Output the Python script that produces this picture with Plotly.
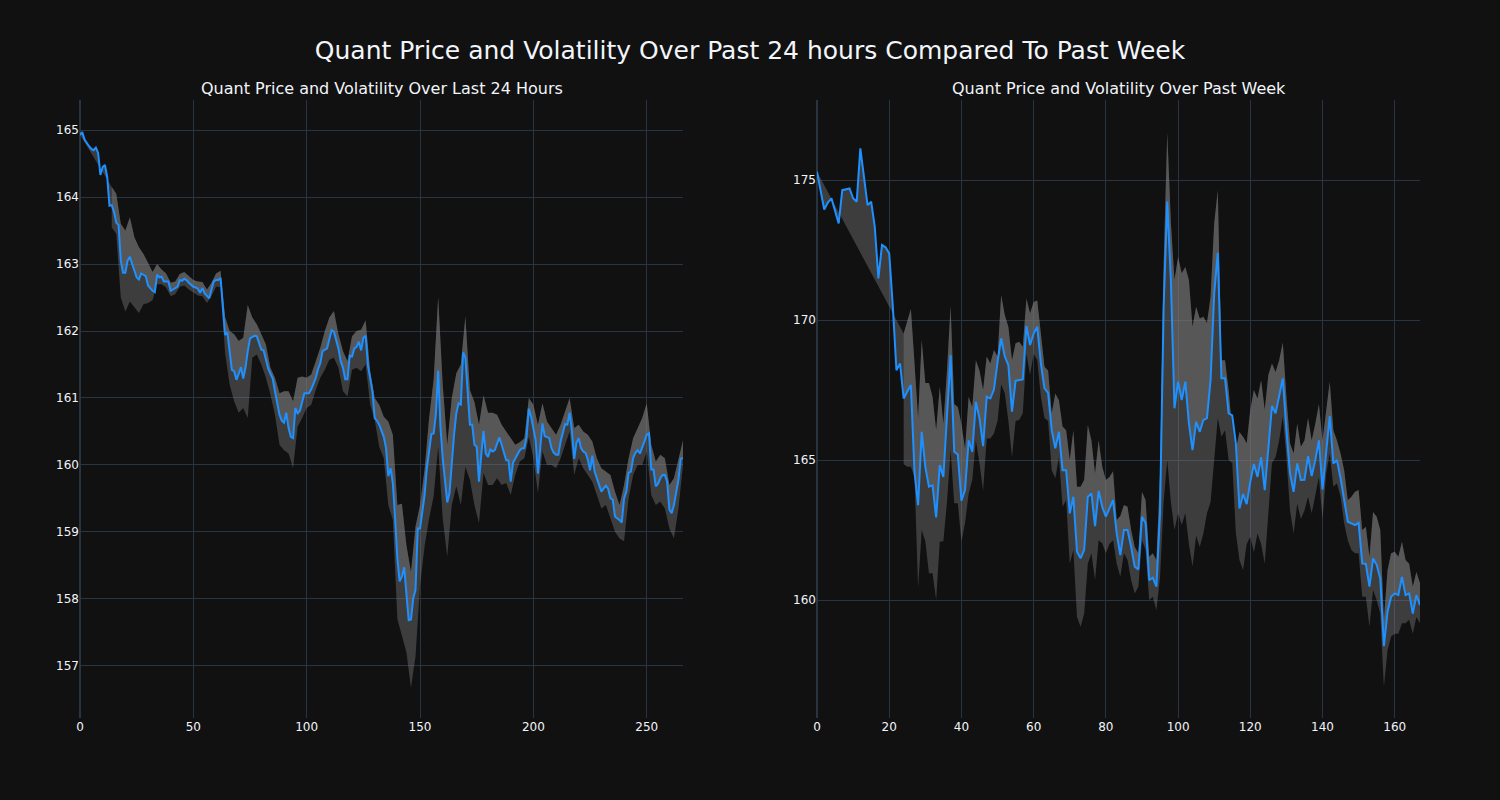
import plotly.graph_objects as go
from plotly.subplots import make_subplots

# ---------------- Last 24 hours ----------------
day_price = [
    164.93, 164.97, 164.86, 164.80, 164.76, 164.72, 164.70, 164.74, 164.66, 164.33,
    164.45, 164.48, 164.30, 163.87, 163.88, 163.78, 163.62, 163.58, 163.05, 162.87,
    162.87, 163.05, 163.11, 163.00, 162.90, 162.80, 162.77, 162.86, 162.84, 162.82,
    162.68, 162.64, 162.60, 162.58, 162.84, 162.80, 162.81, 162.74, 162.74, 162.74,
    162.60, 162.62, 162.64, 162.66, 162.76, 162.75, 162.78, 162.76, 162.72, 162.69,
    162.66, 162.65, 162.63, 162.57, 162.64, 162.56, 162.52, 162.49, 162.62, 162.74,
    162.76, 162.76, 162.79, 162.30, 161.94, 161.98, 161.70, 161.42, 161.40, 161.27,
    161.36, 161.46, 161.29, 161.45, 161.70, 161.89, 161.91, 161.93, 161.92, 161.80,
    161.72, 161.71, 161.58, 161.44, 161.36, 161.29, 161.10, 160.90, 160.75, 160.66,
    160.63, 160.78, 160.55, 160.42, 160.40, 160.85, 160.77, 160.81, 160.95, 161.07,
    161.07, 161.07, 161.13, 161.22, 161.30, 161.43, 161.52, 161.70, 161.72, 161.74,
    161.88, 162.01, 161.99, 161.88, 161.74, 161.55, 161.45, 161.28, 161.28, 161.63,
    161.62, 161.74, 161.76, 161.84, 161.71, 161.90, 161.93, 161.49, 161.30, 161.10,
    160.70, 160.66, 160.60, 160.50, 160.42, 160.25, 159.83, 159.95, 159.73, 159.20,
    158.60, 158.26, 158.33, 158.47, 158.08, 157.68, 157.69, 158.01, 158.13, 159.05,
    159.05, 159.30, 159.55, 159.95, 160.20, 160.46, 160.47, 160.76, 161.41, 160.57,
    160.10, 159.80, 159.44, 159.58, 160.05, 160.45, 160.77, 160.92, 160.90, 161.68,
    161.60, 161.10, 160.60, 160.60, 160.30, 160.27, 159.75, 160.15, 160.51, 160.17,
    160.12, 160.23, 160.20, 160.22, 160.32, 160.41, 160.30, 160.20, 160.07, 160.07,
    159.75, 160.03, 160.10, 160.16, 160.22, 160.25, 160.25, 160.42, 160.84, 160.72,
    160.55, 160.37, 159.87, 160.30, 160.62, 160.43, 160.42, 160.40, 160.25, 160.18,
    160.15, 160.15, 160.35, 160.50, 160.61, 160.60, 160.78, 160.50, 160.09, 160.33,
    160.40, 160.25, 160.20, 160.18, 160.08, 159.92, 160.14, 159.90, 159.80, 159.70,
    159.60, 159.65, 159.69, 159.64, 159.50, 159.48, 159.23, 159.20, 159.18, 159.14,
    159.50, 159.60, 159.88, 159.90, 160.10, 160.18, 160.22, 160.17, 160.25, 160.35,
    160.45, 160.47, 159.93, 159.93, 159.68, 159.72, 159.80, 159.85, 159.85, 159.75,
    159.33, 159.28, 159.40, 159.60, 159.78, 160.09, 160.10,
]

# volatility band, sampled every 2nd step starting at step 14
day_band_start = 14
day_band_step = 2
day_upper = [
    164.15, 164.05, 163.60, 163.50, 163.70, 163.40, 163.25, 163.15, 163.02, 162.88,
    163.00, 162.92, 162.86, 162.72, 162.74, 162.85, 162.88, 162.82, 162.76, 162.74,
    162.73, 162.62, 162.72, 162.86, 162.90, 162.21, 162.00, 161.95, 161.85, 161.90,
    162.39, 162.20, 162.10, 161.95, 161.80, 161.45, 161.30, 161.07, 161.10, 161.10,
    160.95, 161.30, 161.32, 161.30, 161.35, 161.55, 161.75, 162.00, 162.20, 162.30,
    161.95, 161.70, 161.55, 161.92, 162.00, 162.02, 162.16, 161.40, 161.00, 160.90,
    160.72, 160.65, 160.45, 159.40, 159.42, 158.80, 158.40, 159.08, 159.40, 159.93,
    160.70, 161.27, 162.51, 161.20, 160.30, 161.00, 161.37, 161.50, 162.22, 161.12,
    160.94, 160.60, 161.04, 160.78, 160.78, 160.75, 160.60, 160.50, 160.40, 160.30,
    160.34, 160.40, 161.00, 160.90, 160.60, 160.92, 160.65, 160.55, 160.45, 160.60,
    160.80, 161.00, 160.55, 160.60, 160.50, 160.45, 160.35, 160.10, 159.95, 159.90,
    159.85, 159.60, 159.40, 159.70, 160.10, 160.40, 160.55, 160.70, 160.92, 160.30,
    160.05, 160.15, 160.10, 159.70, 159.80, 160.10, 160.37,
]
day_lower = [
    163.55, 163.45, 162.50, 162.29, 162.44, 162.35, 162.27, 162.40, 162.42, 162.46,
    162.70, 162.70, 162.65, 162.52, 162.55, 162.66, 162.68, 162.62, 162.57, 162.53,
    162.52, 162.42, 162.52, 162.66, 162.66, 161.67, 161.20, 160.95, 160.78, 160.85,
    160.70, 161.60, 161.65, 161.50, 161.30, 161.05, 160.75, 160.30, 160.22, 160.17,
    159.95, 160.57, 160.70, 160.85, 160.90, 161.12, 161.30, 161.42, 161.57, 161.60,
    161.45, 161.10, 161.02, 161.42, 161.45, 161.40, 161.50, 160.90, 160.67, 160.27,
    160.10, 159.40, 159.18, 157.70, 157.45, 157.20, 156.67, 157.14, 158.20, 158.78,
    159.20, 159.53, 160.27, 159.20, 158.63, 159.40, 159.68, 159.40, 159.97, 159.78,
    159.40, 159.13, 159.88, 159.70, 159.70, 159.80, 159.70, 159.73, 159.55, 159.85,
    160.05, 160.10, 160.42, 160.10, 159.58, 160.20, 160.00, 160.00, 159.95, 160.10,
    160.30, 160.50, 159.85, 160.10, 159.95, 159.85, 159.75, 159.55, 159.35, 159.40,
    159.20, 159.00, 158.90, 158.86, 159.50, 159.85, 160.00, 160.00, 160.20, 159.55,
    159.40, 159.45, 159.35, 159.05, 158.90, 159.35, 160.00,
]

# ---------------- Past week ----------------
week_price = [
    175.30, 174.60, 173.95, 174.20, 174.35, 173.90, 173.45, 174.64, 174.67, 174.70,
    174.35, 174.23, 176.13, 175.10, 174.11, 174.23, 173.33, 171.49, 172.68, 172.60,
    172.38, 170.48, 168.21, 168.45, 167.20, 167.45, 167.68, 164.58, 163.39, 166.01,
    164.76, 164.05, 164.10, 162.95, 164.82, 164.40, 166.55, 168.75, 165.30, 165.20,
    163.55, 163.93, 165.71, 165.30, 167.08, 166.50, 165.50, 167.26, 167.20, 167.52,
    168.50, 169.35, 168.70, 168.39, 166.73, 167.83, 167.86, 167.88, 169.79, 169.11,
    169.52, 169.76, 168.45, 167.56, 167.40, 166.07, 165.42, 166.01, 164.64, 164.64,
    163.10, 163.69, 161.73, 161.49, 161.80, 163.69, 163.81, 162.64, 163.90, 163.33,
    162.98, 163.25, 163.57, 162.38, 161.61, 162.50, 162.50, 161.90, 161.19, 161.10,
    162.98, 162.75, 160.71, 160.80, 160.48, 163.10, 170.48, 174.23, 171.43, 166.85,
    167.80, 167.14, 167.80, 166.31, 165.36, 166.37, 166.01, 166.43, 166.50, 167.86,
    170.95, 172.40, 167.92, 167.92, 166.67, 166.60, 165.60, 163.27, 163.79, 163.43,
    164.23, 164.86, 164.40, 165.10, 163.93, 165.42, 166.93, 166.67, 167.32, 167.92,
    166.07, 164.52, 163.87, 164.88, 164.29, 164.30, 165.14, 164.43, 165.00, 165.71,
    163.95, 165.35, 166.57, 164.88, 165.00, 164.35, 163.63, 162.80, 162.74, 162.68,
    162.76, 161.31, 161.29, 160.48, 161.49, 161.26, 160.77, 158.36, 159.58, 160.12,
    160.24, 160.18, 160.83, 160.18, 160.24, 159.52, 160.18, 159.82,
]

week_band_start = 24
week_upper = [
    169.52, 170.00, 170.40, 168.46, 166.50, 169.30, 167.75, 167.75, 167.26, 166.07,
    167.62, 166.30, 168.20, 170.50, 167.00, 166.90, 166.30, 165.40, 167.26, 166.90,
    168.57, 168.20, 167.50, 168.70, 168.45, 168.93, 168.70, 170.90, 170.18, 169.76,
    168.57, 169.17, 169.23, 169.05, 170.77, 170.24, 170.65, 170.70, 169.40, 168.33,
    168.20, 166.67, 167.38, 167.14, 166.20, 166.07, 165.00, 166.07, 164.05, 164.05,
    164.30, 166.25, 165.71, 164.52, 165.71, 164.76, 164.29, 164.40, 164.60, 162.86,
    163.00, 163.40, 163.33, 162.50, 161.90, 161.67, 163.87, 163.57, 161.55, 161.67,
    161.43, 164.50, 172.00, 176.70, 173.50, 171.43, 172.26, 171.67, 171.90, 171.43,
    169.76, 170.48, 170.06, 170.12, 169.90, 170.83, 173.45, 174.64, 168.57, 168.57,
    167.50, 166.07, 165.36, 166.00, 165.83, 165.60, 166.80, 167.50, 167.20, 167.86,
    166.80, 168.04, 168.45, 168.15, 168.57, 169.20, 167.26, 165.60, 165.24, 166.30,
    165.48, 165.70, 166.50, 165.70, 166.30, 167.00, 165.70, 166.80, 167.80, 166.07,
    165.70, 165.24, 164.64, 163.57, 163.69, 163.87, 163.93, 162.50, 162.62, 161.55,
    163.15, 162.98, 162.50, 159.30, 161.07, 161.67, 161.73, 161.55, 162.08, 161.43,
    161.30, 160.48, 161.00, 160.60,
]
week_lower = [
    164.85, 164.76, 164.76, 164.40, 160.43, 162.50, 162.10, 160.96, 160.96, 160.00,
    162.08, 162.10, 163.50, 165.36, 163.46, 163.46, 162.08, 162.75, 163.80, 164.29,
    165.70, 164.90, 163.90, 165.77, 165.77, 165.95, 166.40, 167.70, 167.40, 166.40,
    165.10, 166.40, 166.43, 166.67, 168.80, 168.04, 168.80, 168.57, 167.26, 166.50,
    166.40, 164.64, 164.35, 165.10, 163.33, 163.57, 161.30, 161.79, 159.40, 159.05,
    159.52, 161.30, 161.67, 160.71, 162.14, 162.02, 161.67, 162.00, 162.14, 161.30,
    160.83, 161.67, 161.43, 160.71, 160.24, 160.48, 162.14, 161.79, 160.00, 160.12,
    159.64, 160.80, 163.50, 165.00, 163.50, 162.50, 163.10, 162.68, 163.10, 162.00,
    161.20, 162.30, 161.90, 162.38, 163.10, 163.50, 165.00, 166.50, 165.83, 166.07,
    165.00, 164.90, 162.40, 161.43, 161.07, 162.00, 162.26, 161.70, 162.38, 162.00,
    161.30, 163.20, 164.90, 165.10, 165.70, 166.55, 165.10, 163.20, 162.38, 163.45,
    162.90, 163.20, 163.69, 163.10, 163.69, 164.40, 162.86, 164.50, 165.24, 164.05,
    164.17, 163.69, 162.74, 162.14, 161.79, 161.67, 161.67, 160.12, 160.12, 159.05,
    160.36, 160.00, 159.52, 156.90, 158.20, 158.70, 158.80, 158.80, 159.17, 159.17,
    159.30, 158.80, 159.40, 159.17,
]

main_title = "Quant Price and Volatility Over Past 24 hours Compared To Past Week"
sub_titles = ["Quant Price and Volatility Over Last 24 Hours",
              "Quant Price and Volatility Over Past Week"]

LINE_COLOR = "#1E90FF"
BAND_COLOR = "rgba(128,128,128,0.4)"
FONT = "DejaVu Sans"

day_x = list(range(len(day_price)))
day_band_x = [day_band_start + day_band_step * i for i in range(len(day_upper))]
week_x = list(range(len(week_price)))
week_band_x = [week_band_start + i for i in range(len(week_upper))]

fig = make_subplots(rows=1, cols=2, subplot_titles=sub_titles, horizontal_spacing=0.1)


def add_panel(col, x, price, bx, upper, lower):
    fig.add_trace(go.Scatter(x=x, y=price, mode="lines", line=dict(width=0),
                             showlegend=False, hoverinfo="skip"), row=1, col=col)
    fig.add_trace(go.Scatter(x=bx, y=upper, mode="lines", line=dict(width=0),
                             fill="tonexty", fillcolor=BAND_COLOR,
                             showlegend=False, hoverinfo="skip"), row=1, col=col)
    fig.add_trace(go.Scatter(x=bx, y=lower, mode="lines", line=dict(width=0),
                             fill="tonexty", fillcolor=BAND_COLOR,
                             showlegend=False, hoverinfo="skip"), row=1, col=col)
    fig.add_trace(go.Scatter(x=x, y=price, mode="lines",
                             line=dict(color=LINE_COLOR, width=2),
                             showlegend=False), row=1, col=col)


add_panel(1, day_x, day_price, day_band_x, day_upper, day_lower)
add_panel(2, week_x, week_price, week_band_x, week_upper, week_lower)

fig.update_xaxes(range=[0, 266], dtick=50, row=1, col=1)
fig.update_yaxes(range=[156.22, 165.45], dtick=1, row=1, col=1)
fig.update_xaxes(range=[0, 167], dtick=20, row=1, col=2)
fig.update_yaxes(range=[155.79, 177.86], dtick=5, row=1, col=2)

for ann in fig.layout.annotations:
    ann.font = dict(family=FONT, size=16)

fig.update_layout(
    template="plotly_dark",
    width=1500, height=800,
    margin=dict(l=80, r=80, t=100, b=82),
    font=dict(family=FONT),
    title=dict(text=main_title, x=0.5, xanchor="center", y=0.9375, yanchor="middle",
               font=dict(size=25, family=FONT)),
    showlegend=False,
)

fig.write_html("out.html", config={"displayModeBar": False},
               post_script="document.body.style.margin='0';")
